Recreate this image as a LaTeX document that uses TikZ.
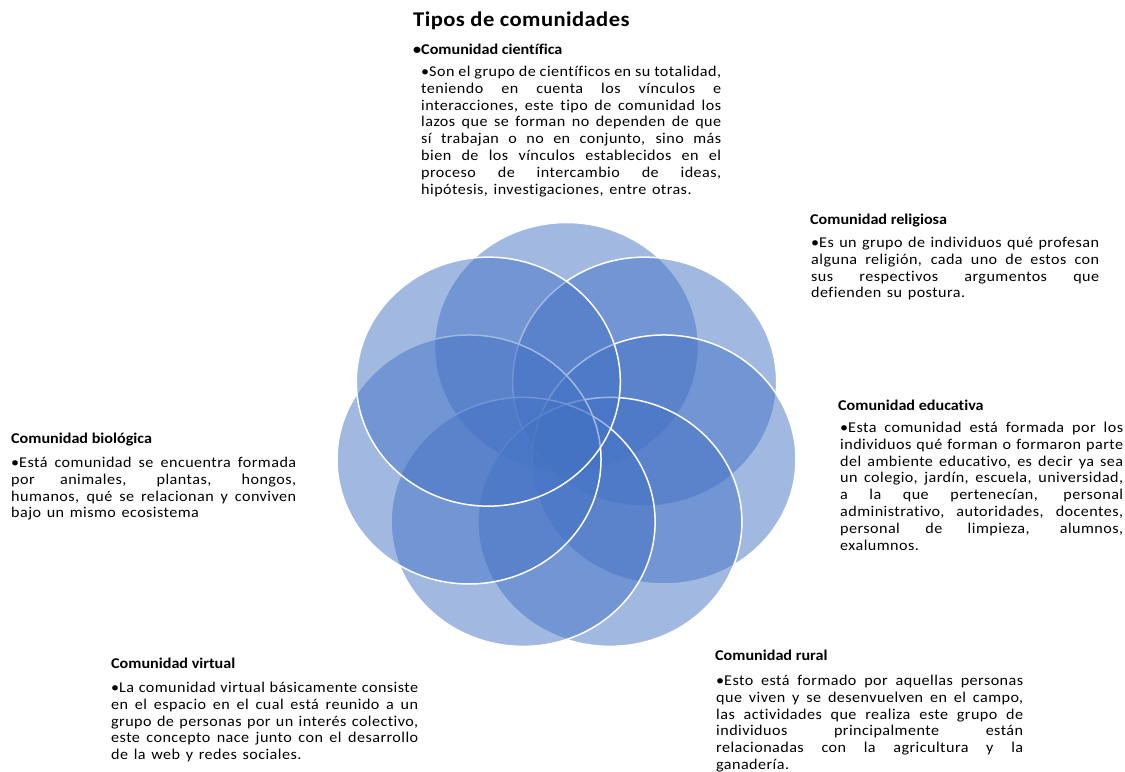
\documentclass[tikz,border=0pt]{standalone}
\usepackage{fontspec}
\setmainfont{Carlito}[Ligatures=NoCommon]
\newfontfamily\bodyfont{Carlito}[FakeStretch=1.08,LetterSpace=3,Ligatures=NoCommon]
\newfontfamily\headfont{Carlito}[FakeStretch=1.08,Ligatures=NoCommon]
\newfontfamily\titlefont{Carlito}[FakeStretch=1.08,LetterSpace=2,Ligatures=NoCommon]
\usetikzlibrary{shapes.geometric}
\definecolor{petalblue}{RGB}{68,114,196}
\newcommand{\itemdot}{\lineskiplimit=-10bp\spaceskip=0.38em plus 0.6em minus 0.12em
  \hangindent=5bp\hangafter=1\noindent\strut\makebox[8bp][l]{•}}

\begin{document}
\begin{tikzpicture}[x=1bp,y=-1bp,
  petal/.style={ellipse,draw=white,line width=1.5bp,fill=petalblue,fill opacity=0.5,
    minimum width=264bp,minimum height=249bp,inner sep=0pt},
  title/.style={anchor=base west,inner sep=0pt,font=\titlefont\bfseries\fontsize{21}{25}\selectfont},
  head/.style={anchor=base west,inner sep=0pt,font=\headfont\bfseries\fontsize{15}{17}\selectfont},
  body/.style={anchor=north west,inner sep=0pt,text width=#1,align=justify,
    font=\bodyfont\fontsize{15}{17}\selectfont}]

\useasboundingbox (0,0) rectangle (1125,772);

%Draw Circles
\foreach \i in {0,...,6}{
  \pgfmathsetmacro{\a}{90-\i*360/7}
  \node[petal] (petal\i) at ({566.5+100*cos(\a)},{439-92*sin(\a)}) {};
}

%Draw Title
\node[title] (title) at (413,27) {Tipos de comunidades};

%Draw Top Text
\node[head] (hcient) at (413,55) {•Comunidad científica};
\node[body=300bp] (bcient) at (421,64.1) {\itemdot Son el grupo de científicos en su totalidad,\linebreak
teniendo en cuenta los vínculos e\linebreak
interacciones, este tipo de comunidad los\linebreak
lazos que se forman no dependen de que\linebreak
sí trabajan o no en conjunto, sino más\linebreak
bien de los vínculos establecidos en el\linebreak
proceso de intercambio de ideas,\linebreak
hipótesis, investigaciones, entre otras.};

%Draw Right Text
\node[head] (hrelig) at (810,224) {Comunidad religiosa};
\node[body=288bp] (brelig) at (811,235.1) {\itemdot Es un grupo de individuos qué profesan\linebreak
alguna religión, cada uno de estos con\linebreak
sus respectivos argumentos que\linebreak
defienden su postura.};

\node[head] (heduc) at (838,410) {Comunidad educativa};
\node[body=283bp] (beduc) at (840,420.1) {\itemdot Esta comunidad está formada por los\linebreak
individuos qué forman o formaron parte\linebreak
del ambiente educativo, es decir ya sea\linebreak
un colegio, jardín, escuela, universidad,\linebreak
a la que pertenecían, personal\linebreak
administrativo, autoridades, docentes,\linebreak
personal de limpieza, alumnos,\linebreak
exalumnos.};

\node[head] (hrural) at (715,660) {Comunidad rural};
\node[body=307bp] (brural) at (716,673.1) {\itemdot Esto está formado por aquellas personas\linebreak
que viven y se desenvuelven en el campo,\linebreak
las actividades que realiza este grupo de\linebreak
individuos principalmente están\linebreak
relacionadas con la agricultura y la\linebreak
ganadería.};

%Draw Left Text
\node[head] (hbio) at (11,443) {Comunidad biológica};
\node[body=285bp] (bbio) at (11,455.1) {\itemdot Está comunidad se encuentra formada\linebreak
por animales, plantas, hongos,\linebreak
humanos, qué se relacionan y conviven\linebreak
bajo un mismo ecosistema};

\node[head] (hvirt) at (111,668) {Comunidad virtual};
\node[body=307bp] (bvirt) at (111,680.1) {\itemdot La comunidad virtual básicamente consiste\linebreak
en el espacio en el cual está reunido a un\linebreak
grupo de personas por un interés colectivo,\linebreak
este concepto nace junto con el desarrollo\linebreak
de la web y redes sociales.};

\end{tikzpicture}
\end{document}
